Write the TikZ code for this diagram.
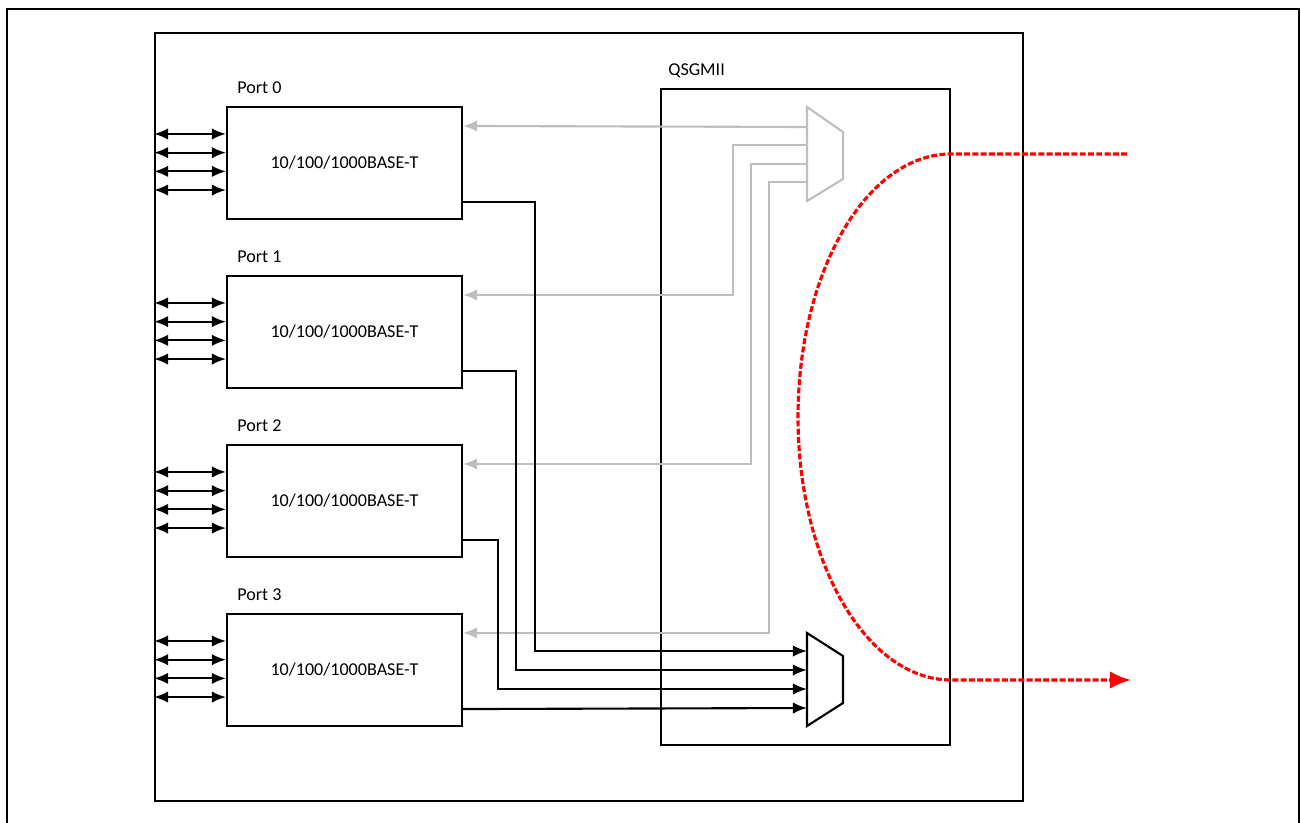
\documentclass[tikz,border=0pt]{standalone}
\usepackage{fontspec}
\setmainfont{Carlito}
\usepackage{tikz}
\usetikzlibrary{arrows.meta, positioning, calc}

\definecolor{muxgray}{RGB}{190,190,190}

\begin{document}
\begin{tikzpicture}[
    x=0.02cm, y=-0.02cm,
    font=\fontsize{10.3}{12}\selectfont,
    chipbox/.style={draw=black, line width=1.2pt, rectangle, inner sep=0pt},
    portbox/.style={draw=black, line width=1.2pt, rectangle, inner sep=0pt,
        minimum width=4.7cm, minimum height=2.24cm, align=center},
    portlabel/.style={anchor=west, inner sep=0pt},
    wire/.style={draw=black, line width=1.2pt, -{Latex[length=8pt,width=6.5pt]}},
    lanewire/.style={draw=black, line width=1.2pt,
        {Latex[length=8pt,width=6.5pt]}-{Latex[length=8pt,width=6.5pt]}},
    graywire/.style={draw=muxgray, line width=1.2pt, {Latex[length=8pt,width=6.5pt]}-},
    redpath/.style={draw=red, line width=1.8pt, dash pattern=on 3.4pt off 1.3pt,
        -{Latex[length=12pt,width=10pt]}}
]
\clip (0,0) rectangle (1301,822);

% Frame
\draw[line width=1.4pt] (7,840) -- (7,9) -- (1299,9) -- (1299,840);

% Nodes
\node[chipbox, minimum width=17.36cm, minimum height=15.36cm] (chip) at (589,417) {};
\node[chipbox, minimum width=5.78cm, minimum height=13.12cm] (qsgmii) at (805.5,417) {};
\node[portlabel] at ($(qsgmii.north west)+(8,-17)$) {QSGMII};

\foreach \i in {0,...,3} {
    \node[portbox] (port\i) at (344.5,163+169*\i) {10/100/1000BASE-T};
    \node[portlabel] at ($(port\i.north west)+(11,-18)$) {Port \i};
    \foreach \k in {0,...,3}
        \draw[lanewire] ($(chip.west |- port\i.north)+(0,28+18.7*\k)$)
            -- ($(port\i.north west)+(0,28+18.7*\k)$);
}

% Muxes
\draw[muxgray, line width=1.2pt] (807,107) -- (843,132) -- (843,179) -- (807,201) -- cycle;
\draw[black, line width=1.2pt] (807,633) -- (843,656) -- (843,703) -- (807,726) -- cycle;
\coordinate (gin0) at (807,127);
\coordinate (gin1) at (807,145);
\coordinate (gin2) at (807,164);
\coordinate (gin3) at (807,182);
\coordinate (bin0) at (807,651);
\coordinate (bin1) at (807,670);
\coordinate (bin2) at (807,689);
\coordinate (bin3) at (807,708);

% Paths
\draw[graywire] ($(port0.north east)+(0,20)$) -- (gin0);
\draw[graywire] ($(port1.north east)+(0,20)$) -| (733,145) -- (gin1);
\draw[graywire] ($(port2.north east)+(0,20)$) -| (751,164) -- (gin2);
\draw[graywire] ($(port3.north east)+(0,20)$) -| (769,182) -- (gin3);

\draw[wire] ($(port0.south east)+(0,-18)$) -| (535,651) -- (bin0);
\draw[wire] ($(port1.south east)+(0,-18)$) -| (516,670) -- (bin1);
\draw[wire] ($(port2.south east)+(0,-18)$) -| (498,689) -- (bin2);
\draw[wire] ($(port3.south east)+(0,-18)$) -- (bin3);

\draw[redpath] (1127,154) -- (qsgmii.east |- 0,154)
    arc[start angle=270, end angle=90, x radius=153, y radius=263] -- (1131,680);

\end{tikzpicture}
\end{document}
